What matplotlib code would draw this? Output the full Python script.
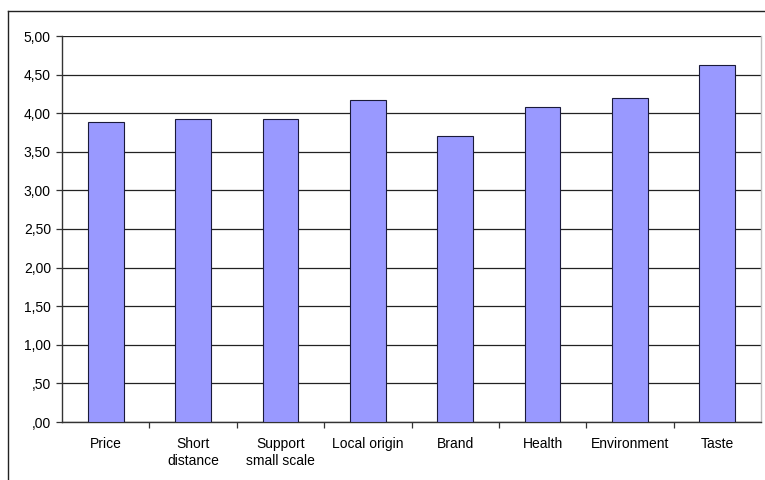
import matplotlib
matplotlib.use("Agg")
import matplotlib.pyplot as plt
from matplotlib.lines import Line2D
from matplotlib.ticker import FixedLocator, FuncFormatter
import numpy as np

categories = ["Price", "Short\ndistance", "Support\nsmall scale", "Local origin",
              "Brand", "Health", "Environment", "Taste"]
scores = [3.88, 3.93, 3.92, 4.17, 3.70, 4.08, 4.20, 4.62]
y_ticks = [0.0, 0.5, 1.0, 1.5, 2.0, 2.5, 3.0, 3.5, 4.0, 4.5, 5.0]

plt.rcParams["font.family"] = ["Liberation Sans", "DejaVu Sans"]
plt.rcParams["font.size"] = 10

W, H = 765, 480
fig = plt.figure(figsize=(W / 100, H / 100), dpi=100)
ax = fig.add_axes([62 / W, 1 - 422 / H, (761 - 62) / W, (422 - 36) / H])

x = np.arange(len(categories))
ax.bar(x, scores, width=0.41, color="#9999FF", edgecolor="#1a1a3a", linewidth=0.8, zorder=3)

ax.set_xlim(-0.5, len(categories) - 0.5)
ax.set_ylim(0, 5)


def comma_label(v, _):
    s = ("%.2f" % v).replace(".", ",")
    return s.lstrip("0") if v < 1 else s


ax.set_yticks(y_ticks)
ax.yaxis.set_major_formatter(FuncFormatter(comma_label))
ax.grid(axis="y", color="#222222", linewidth=0.9, zorder=1)

ax.set_xticks(x)
ax.set_xticklabels(categories, linespacing=1.25)
ax.xaxis.set_minor_locator(FixedLocator(np.arange(0.5, len(categories) - 0.5, 1.0)))
ax.tick_params(axis="x", which="major", length=0, pad=11)
ax.tick_params(axis="x", which="minor", length=4, width=0.9, color="#333333")
ax.tick_params(axis="y", which="major", length=4, width=0.9, color="#333333", pad=4)

for side in ("left", "bottom"):
    ax.spines[side].set_color("#333333")
    ax.spines[side].set_linewidth(1.0)
ax.spines["top"].set_visible(False)
ax.spines["right"].set_color("#c0c0c0")
ax.spines["right"].set_linewidth(1.0)

# outer chart frame (top and left edges)
x0 = 7.5 / W
y0 = 1 - 11 / H
fig.add_artist(Line2D([x0, 1.0], [y0, y0], transform=fig.transFigure, color="#222222", linewidth=1.0))
fig.add_artist(Line2D([x0, x0], [0.0, y0], transform=fig.transFigure, color="#222222", linewidth=1.0))

fig.savefig("out.png", dpi=100)
